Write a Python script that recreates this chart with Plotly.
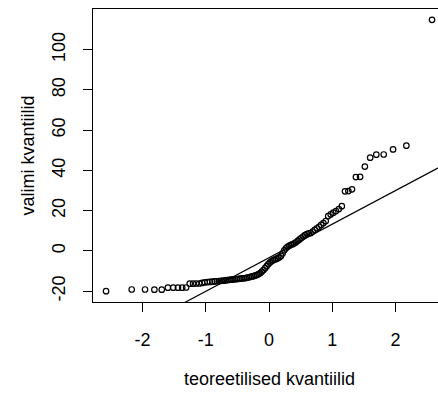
import plotly.graph_objects as go

# Theoretical normal quantiles (n = 100)
theoretical_q = [
    -2.5758, -2.1701, -1.9600, -1.8119, -1.6954, -1.5982, -1.5141, -1.4395, -1.3722, -1.3106,
    -1.2536, -1.2004, -1.1503, -1.1031, -1.0581, -1.0152, -0.9741, -0.9346, -0.8965, -0.8596,
    -0.8239, -0.7892, -0.7554, -0.7225, -0.6903, -0.6588, -0.6280, -0.5978, -0.5681, -0.5388,
    -0.5101, -0.4817, -0.4538, -0.4261, -0.3989, -0.3719, -0.3451, -0.3186, -0.2924, -0.2663,
    -0.2404, -0.2147, -0.1891, -0.1637, -0.1383, -0.1130, -0.0878, -0.0627, -0.0376, -0.0125,
    0.0125, 0.0376, 0.0627, 0.0878, 0.1130, 0.1383, 0.1637, 0.1891, 0.2147, 0.2404,
    0.2663, 0.2924, 0.3186, 0.3451, 0.3719, 0.3989, 0.4261, 0.4538, 0.4817, 0.5101,
    0.5388, 0.5681, 0.5978, 0.6280, 0.6588, 0.6903, 0.7225, 0.7554, 0.7892, 0.8239,
    0.8596, 0.8965, 0.9346, 0.9741, 1.0152, 1.0581, 1.1031, 1.1503, 1.2004, 1.2536,
    1.3106, 1.3722, 1.4395, 1.5141, 1.5982, 1.6954, 1.8119, 1.9600, 2.1701, 2.5758,
]

# Sample quantiles (sorted values)
sample_q = [
    -20.0, -19.2, -19.2, -19.3, -19.3, -18.3, -18.3, -18.3, -18.3, -18.2,
    -16.3, -16.3, -16.2, -16.2, -15.9, -15.6, -15.5, -15.4, -15.3, -15.2,
    -15.1, -15.0, -14.9, -14.8, -14.7, -14.5, -14.4, -14.3, -14.2, -14.1,
    -14.0, -13.9, -13.8, -13.7, -13.6, -13.5, -13.3, -13.1, -12.9, -12.7,
    -12.5, -12.2, -11.9, -11.5, -11.0, -10.3, -9.5, -8.6, -7.6, -6.6,
    -5.8, -5.2, -4.7, -4.3, -4.0, -3.6, -3.2, -2.5, -1.2, 0.3,
    1.3, 2.0, 2.5, 3.0, 3.3, 3.8, 4.3, 5.0, 5.7, 6.4,
    7.1, 7.8, 8.4, 8.7, 8.9, 9.6, 10.4, 11.2, 12.0, 12.9,
    13.8, 14.8, 17.3, 18.1, 19.0, 19.8, 20.8, 22.2, 29.6, 29.7,
    30.6, 36.7, 36.8, 41.9, 46.3, 47.8, 47.9, 50.4, 52.3, 114.8,
]

# Reference line (qqline) parameters
line_intercept = -3.4
line_slope = 16.7
line_x = [-3.0, 3.0]
line_y = [line_intercept + line_slope * v for v in line_x]

x_ticks = [-2, -1, 0, 1, 2]
y_ticks = [-20, 0, 20, 40, 60, 80, 100]

x_title = "teoreetilised kvantiilid"
y_title = "valimi kvantiilid"

FONT = "Liberation Sans, Arial, sans-serif"
FS = 18

fig = go.Figure()
fig.add_trace(go.Scatter(
    x=theoretical_q, y=sample_q, mode="markers",
    marker=dict(symbol="circle-open", size=5.5, color="black", line=dict(width=1.2, color="black")),
    showlegend=False, hoverinfo="skip",
))
fig.add_trace(go.Scatter(
    x=line_x, y=line_y, mode="lines",
    line=dict(color="black", width=1.2),
    showlegend=False, hoverinfo="skip",
))

fig.update_layout(
    width=438, height=393,
    margin=dict(l=93, r=0, t=9, b=91),
    paper_bgcolor="white", plot_bgcolor="white",
    font=dict(family=FONT, size=FS, color="black"),
    xaxis=dict(
        range=[-2.782, 2.67], tickvals=x_ticks, ticktext=[str(v) for v in x_ticks],
        showgrid=False, zeroline=False, showline=True, mirror=True,
        linecolor="black", linewidth=1.2,
        ticks="outside", ticklen=9, tickwidth=1.2, tickcolor="black",
        tickfont=dict(family=FONT, size=FS, color="black"),
        ticklabelstandoff=12,
    ),
    yaxis=dict(
        range=[-25.4, 120.2], tickvals=y_ticks, ticktext=[str(v) for v in y_ticks],
        showgrid=False, zeroline=False, showline=True, mirror=False,
        linecolor="black", linewidth=1.2,
        ticks="outside", ticklen=9, tickwidth=1.2, tickcolor="black",
        tickangle=-90,
        tickfont=dict(family=FONT, size=FS, color="black"),
        ticklabelstandoff=11,
    ),
    annotations=[
        dict(text=x_title, xref="x", yref="paper", x=0, y=0, xanchor="center", yanchor="middle",
             yshift=-77, showarrow=False, font=dict(family=FONT, size=FS, color="black")),
        dict(text=y_title, xref="paper", yref="paper", x=0, y=0.5, xanchor="center", yanchor="middle",
             xshift=-66, textangle=-90, showarrow=False, font=dict(family=FONT, size=FS, color="black")),
    ],
)

fig.write_html("out.html")
